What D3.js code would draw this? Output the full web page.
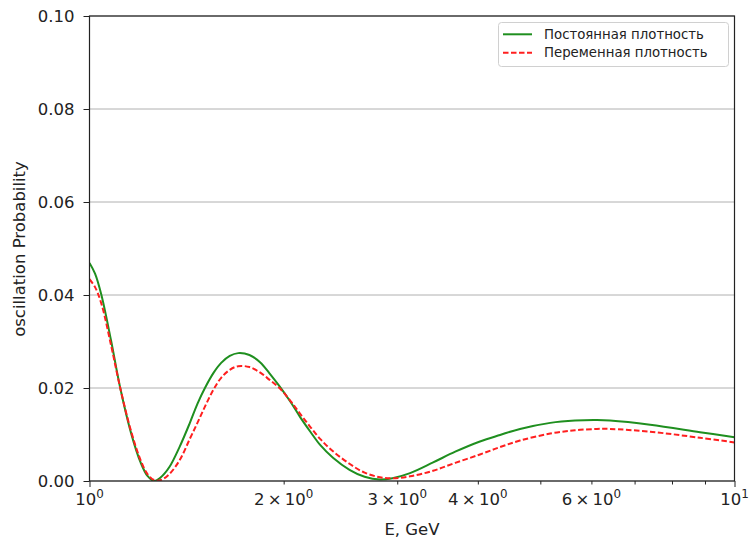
<!DOCTYPE html>
<html>
<head>
<meta charset="utf-8">
<script src="https://cdn.jsdelivr.net/npm/d3@7"></script>
<style>
  body { margin: 0; background: #fff; }
  svg { display: block; font-family: "DejaVu Sans", sans-serif; }
</style>
</head>
<body>
<div id="chart"></div>
<script>
// Energy, GeV (log axis)
const energy = [1.0, 1.02, 1.043, 1.08, 1.116, 1.16, 1.2, 1.23, 1.26, 1.29, 1.33, 1.38, 1.43, 1.47, 1.51, 1.556,
   1.6, 1.65, 1.7, 1.77, 1.84, 1.9, 1.97, 2.05, 2.12, 2.2, 2.28, 2.385, 2.53, 2.67, 2.82, 2.95, 3.14, 3.41,
   3.69, 4.03, 4.33, 4.65, 5.18, 5.66, 6.12, 6.41, 7.4, 8.84, 10.0];
// Постоянная плотность
const constDensity = [0.0469, 0.0446, 0.0401, 0.0302, 0.0200, 0.0103, 0.0040, 0.0011, 0.0000, 0.0008, 0.0030,
   0.0074, 0.0124, 0.0166, 0.0200, 0.0232, 0.0254, 0.0269, 0.0275, 0.0271, 0.0255, 0.0232, 0.0204, 0.0170,
   0.0138, 0.0106, 0.0077, 0.0050, 0.0024, 0.0009, 0.0003, 0.0006, 0.0017, 0.0040, 0.0063, 0.0085, 0.0099,
   0.0112, 0.0125, 0.0130, 0.0131, 0.0130, 0.0121, 0.0105, 0.0094];
// Переменная плотность
const varDensity = [0.0434, 0.0417, 0.0382, 0.0292, 0.0200, 0.0107, 0.0045, 0.0015, 0.0002, 0.0002, 0.0015,
   0.0045, 0.0090, 0.0125, 0.0160, 0.0196, 0.0222, 0.0239, 0.0247, 0.0245, 0.0233, 0.0218, 0.0200, 0.0172,
   0.0145, 0.0116, 0.0090, 0.0064, 0.0037, 0.0018, 0.0008, 0.0006, 0.0010, 0.0022, 0.0039, 0.0057, 0.0073,
   0.0087, 0.0102, 0.0109, 0.0112, 0.0112, 0.0106, 0.0093, 0.0083];
const yTicks = [0, 0.02, 0.04, 0.06, 0.08, 0.10];
const xMajor = [1, 10];
const xMinor = [2, 3, 4, 5, 6, 7, 8, 9];
const xMinorLabeled = [2, 3, 4, 6];
const legendLabels = ["Постоянная плотность", "Переменная плотность"];

const W = 749, H = 543;
const mLeft = 89.5, mRight = 734.5, mTop = 16, mBottom = 481;
const fs = 16.5;

const svg = d3.select("#chart")
   .append("svg")
   .attr("width", W)
   .attr("height", H);

const x = d3.scaleLog()
   .domain([1, 10])
   .range([mLeft, mRight]);

const y = d3.scaleLinear()
   .domain([0, 0.1])
   .range([mBottom, mTop]);

svg.append("clipPath")
   .attr("id", "plot-clip")
   .append("rect")
   .attr("x", mLeft)
   .attr("y", mTop)
   .attr("width", mRight - mLeft)
   .attr("height", mBottom - mTop);

// grid
svg.append("g")
   .selectAll("line")
   .data(yTicks)
   .enter()
   .append("line")
   .attr("x1", mLeft)
   .attr("x2", mRight)
   .attr("y1", d => y(d))
   .attr("y2", d => y(d))
   .attr("stroke", "#b0b0b0")
   .attr("stroke-width", 1);

// y axis
const yAxis = svg.append("g")
   .attr("transform", `translate(${mLeft},0)`)
   .call(d3.axisLeft(y).tickValues(yTicks).tickFormat(d3.format(".2f")).tickSize(6).tickPadding(9));
yAxis.select(".domain").remove();
yAxis.selectAll("text").attr("font-size", fs).attr("font-family", "DejaVu Sans").attr("fill", "#222");
yAxis.selectAll("line").attr("stroke", "#222");

// x axis: major ticks
const xAxis = svg.append("g")
   .attr("transform", `translate(0,${mBottom})`)
   .call(d3.axisBottom(x).tickValues(xMajor).tickFormat("").tickSize(6));
xAxis.select(".domain").remove();
xAxis.selectAll("line").attr("stroke", "#222");

// x axis: minor ticks
const xAxisMinor = svg.append("g")
   .attr("transform", `translate(0,${mBottom})`)
   .call(d3.axisBottom(x).tickValues(xMinor).tickFormat("").tickSize(3.5));
xAxisMinor.select(".domain").remove();
xAxisMinor.selectAll("line").attr("stroke", "#222");

// x tick labels in mathtext style
function addLogLabel(v) {
   const t = svg.append("text")
      .attr("x", x(v))
      .attr("y", mBottom + 24)
      .attr("text-anchor", "middle")
      .attr("font-size", fs)
      .attr("fill", "#222");
   let base, exp;
   if (v === 1) { base = "10"; exp = "0"; }
   else if (v === 10) { base = "10"; exp = "1"; }
   else { base = v + "\u2009×\u200910"; exp = "0"; }
   t.append("tspan").text(base);
   t.append("tspan").attr("dy", -7).attr("font-size", fs * 0.72).text(exp);
}
xMajor.forEach(addLogLabel);
xMinorLabeled.forEach(addLogLabel);

// curves
const line = d3.line()
   .x((d, i) => x(energy[i]))
   .y(d => y(d))
   .curve(d3.curveCatmullRom.alpha(0.5));

const plot = svg.append("g").attr("clip-path", "url(#plot-clip)");

plot.append("path")
   .datum(constDensity)
   .attr("fill", "none")
   .attr("stroke", "#1f8f1f")
   .attr("stroke-width", 2)
   .attr("d", line);

plot.append("path")
   .datum(varDensity)
   .attr("fill", "none")
   .attr("stroke", "#ff1f1f")
   .attr("stroke-width", 2)
   .attr("stroke-dasharray", "5.5,2.5")
   .attr("d", line);

// frame
svg.append("rect")
   .attr("x", mLeft)
   .attr("y", mTop)
   .attr("width", mRight - mLeft)
   .attr("height", mBottom - mTop)
   .attr("fill", "none")
   .attr("stroke", "#222")
   .attr("stroke-width", 1.2);

// axis titles
svg.append("text")
   .attr("x", (mLeft + mRight) / 2)
   .attr("y", 535)
   .attr("text-anchor", "middle")
   .attr("font-size", fs)
   .attr("fill", "#222")
   .text("E, GeV");

svg.append("text")
   .attr("transform", "translate(25,249) rotate(-90)")
   .attr("text-anchor", "middle")
   .attr("font-size", fs)
   .attr("fill", "#222")
   .text("oscillation Probability");

// legend
const lg = svg.append("g");
lg.append("rect")
   .attr("x", 498.5)
   .attr("y", 22.5)
   .attr("width", 230)
   .attr("height", 44)
   .attr("rx", 3)
   .attr("fill", "#fff")
   .attr("fill-opacity", 0.8)
   .attr("stroke", "#d0d0d0");

const legendStyles = [
   { color: "#1f8f1f", dash: null },
   { color: "#ff1f1f", dash: "5.5,2.5" }
];
legendLabels.forEach((label, i) => {
   const cy = 34.3 + i * 18.4;
   lg.append("line")
      .attr("x1", 503)
      .attr("x2", 532)
      .attr("y1", cy)
      .attr("y2", cy)
      .attr("stroke", legendStyles[i].color)
      .attr("stroke-width", 2)
      .attr("stroke-dasharray", legendStyles[i].dash);
   lg.append("text")
      .attr("x", 544)
      .attr("y", cy + 4.5)
      .attr("font-size", 13.3)
      .attr("fill", "#222")
      .text(label);
});
</script>
</body>
</html>
